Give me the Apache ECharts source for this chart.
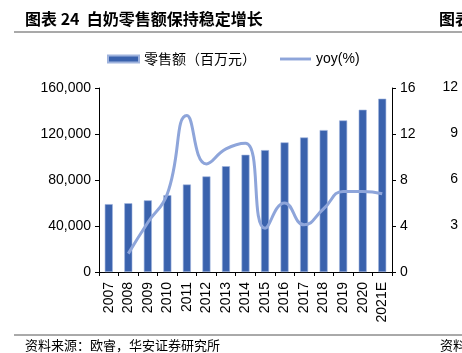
<!DOCTYPE html>
<html>
<head>
<meta charset="utf-8">
<script src="https://cdn.jsdelivr.net/npm/echarts@6/dist/echarts.min.js"></script>
<style>
    html, body { margin: 0; padding: 0; background: #fff; }
    #chart { width: 462px; height: 353px; }
</style>
</head>
<body>
<div id="chart"></div>
<script>
var years = ['2007', '2008', '2009', '2010', '2011', '2012', '2013', '2014', '2015', '2016', '2017', '2018', '2019', '2020', '2021E'];
// 零售额（百万元）
var sales = [59000, 59800, 62300, 66800, 76100, 83100, 92000, 101900, 106000, 112700, 117000, 123400, 131800, 141100, 150700];
// yoy(%)，2007 无数据
var yoy = [null, 1.6, 4.3, 6.8, 13.6, 9.4, 10.7, 11.2, 3.8, 6.0, 4.1, 5.5, 7.0, 7.0, 6.8];
// 右侧相邻图表露出的刻度
var sideTicks = ['12', '9', '6', '3'];

var numFont = 'Liberation Sans, Arial, sans-serif';
var cjkFont = '"Noto Sans CJK SC", sans-serif';

var myChart = echarts.init(document.getElementById('chart'));

var side = [];
for (var i = 0; i < sideTicks.length; i++) {
    side.push({
        type: 'text',
        right: 4,
        top: 80 + i * 46,
        style: { text: sideTicks[i], font: '14px ' + numFont, fill: '#000' }
    });
}

var option = {
    backgroundColor: '#fff',
    animation: false,
    grid: { left: 99, right: 70, top: 88, bottom: 81 },
    legend: {
        left: 102,
        top: 47,
        itemWidth: 31,
        itemHeight: 7,
        itemGap: 24,
        textStyle: { fontFamily: cjkFont, fontSize: 14, color: '#000' },
        data: [
            { name: '零售额（百万元）', icon: 'rect' },
            { name: 'yoy(%)', icon: 'path://M0,0 H32 V3 H0 Z', textStyle: { fontFamily: numFont, fontSize: 14 } }
        ]
    },
    xAxis: {
        type: 'category',
        data: years,
        axisLine: { lineStyle: { color: '#000', width: 1 } },
        axisTick: { show: true, length: 4, lineStyle: { color: '#000' } },
        axisLabel: { rotate: 90, margin: 10, interval: 0, color: '#000', fontFamily: numFont, fontSize: 14 }
    },
    yAxis: [{
        type: 'value',
        min: 0,
        max: 160000,
        interval: 40000,
        splitLine: { show: false },
        axisLine: { show: true, lineStyle: { color: '#000' } },
        axisTick: { show: true, length: 4, lineStyle: { color: '#000' } },
        axisLabel: {
            margin: 8, color: '#000', fontFamily: numFont, fontSize: 14,
            formatter: function(v) { return v.toLocaleString('en-US'); }
        }
    }, {
        type: 'value',
        min: 0,
        max: 16,
        interval: 4,
        splitLine: { show: false },
        axisLine: { show: true, lineStyle: { color: '#000' } },
        axisTick: { show: true, length: 4, lineStyle: { color: '#000' } },
        axisLabel: { margin: 8, color: '#000', fontFamily: numFont, fontSize: 14 }
    }],
    series: [{
        name: '零售额（百万元）',
        type: 'bar',
        barWidth: 8,
        itemStyle: { color: '#3A62AD', borderColor: '#9FB3DD', borderWidth: 0.6 },
        data: sales
    }, {
        name: 'yoy(%)',
        type: 'line',
        yAxisIndex: 1,
        smooth: 0.5,
        symbol: 'none',
        connectNulls: false,
        lineStyle: { color: '#8EA5DA', width: 3 },
        itemStyle: { color: '#8EA5DA' },
        data: yoy
    }],
    graphic: [
        { type: 'text', left: 25, top: 11, style: { text: '图表 24  白奶零售额保持稳定增长', font: 'bold 16px ' + cjkFont, fill: '#000' } },
        { type: 'text', left: 439, top: 11, style: { text: '图表', font: 'bold 16px ' + cjkFont, fill: '#000' } },
        { type: 'line', shape: { x1: 14, y1: 32, x2: 462, y2: 32 }, style: { stroke: '#555', lineWidth: 1.2 } },
        { type: 'line', shape: { x1: 14, y1: 335, x2: 462, y2: 335 }, style: { stroke: '#555', lineWidth: 1 } },
        { type: 'text', left: 25, top: 339, style: { text: '资料来源：欧睿，华安证券研究所', font: '13px ' + cjkFont, fill: '#000' } },
        { type: 'text', left: 440, top: 339, style: { text: '资料', font: '13px ' + cjkFont, fill: '#000' } }
    ].concat(side)
};

myChart.setOption(option);
</script>
</body>
</html>
